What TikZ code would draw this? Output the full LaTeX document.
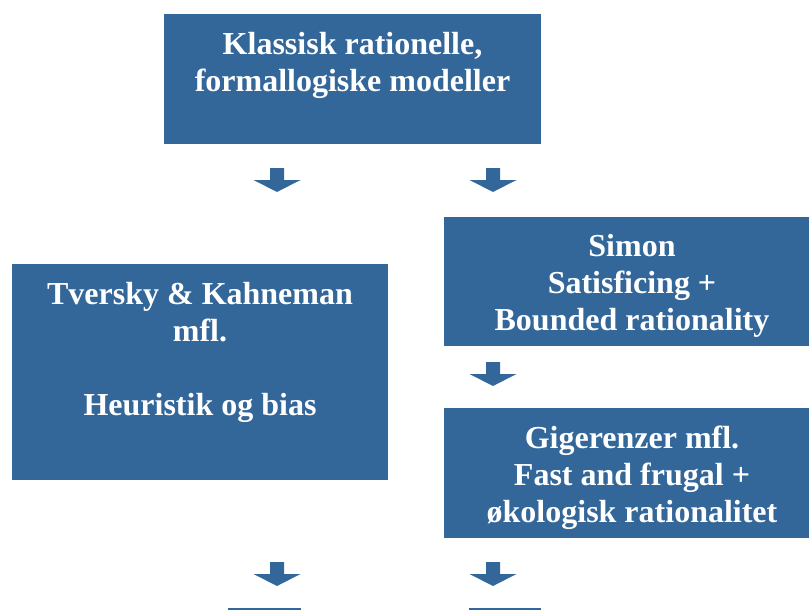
\documentclass[tikz,border=0pt]{standalone}
\usepackage{fontspec}
\setmainfont{Liberation Serif}
\definecolor{boxblue}{RGB}{52,103,153}
\tikzset{
  x=1pt,y=1pt,
  bluebox/.style={fill=boxblue,draw=none,anchor=north west,inner sep=0pt},
  boxtext/.style={text=white,font=\fontsize{32}{37}\selectfont\bfseries,align=center,inner sep=0pt,anchor=base},
  blockarrow/.pic={\fill[boxblue] (-7,0) -- (7,0) -- (7,-12) -- (23.5,-12) -- (0,-24) -- (-23.5,-12) -- (-7,-12) -- cycle;}
}
\begin{document}
\begin{tikzpicture}
\useasboundingbox (0,0) rectangle (809,-610);
\begin{scope}
\clip (0,0) rectangle (809,-610);
% boxes
\node[bluebox,minimum width=377,minimum height=130] (top) at (164,-14) {};
\node[bluebox,minimum width=376,minimum height=216] (left) at (12,-264) {};
\node[bluebox,minimum width=377,minimum height=129] (simon) at (444,-217) {};
\node[bluebox,minimum width=377,minimum height=130] (giger) at (444,-408) {};
\node[bluebox,minimum width=73,minimum height=10] (botl) at (228,-608) {};
\node[bluebox,minimum width=72,minimum height=10] (botr) at (469,-608) {};
% texts (anchor base = baseline of last line)
\node[boxtext] (toptext) at (352.5,-92) {Klassisk rationelle,\\formallogiske modeller};
\node[boxtext] (lefttext) at (200,-415) {Tversky \& Kahneman\\mfl.\\[37pt]Heuristik og bias};
\node[boxtext] (simontext) at (632,-330) {Simon\\Satisficing +\\Bounded rationality};
\node[boxtext] (gigertext) at (632,-522) {Gigerenzer mfl.\\Fast and frugal +\\økologisk rationalitet};
% arrows
\pic (a1) at (277,-168) {blockarrow};
\pic (a2) at (493,-168) {blockarrow};
\pic (a3) at (493,-362) {blockarrow};
\pic (a4) at (277,-562) {blockarrow};
\pic (a5) at (493,-562) {blockarrow};
\end{scope}
\end{tikzpicture}
\end{document}
